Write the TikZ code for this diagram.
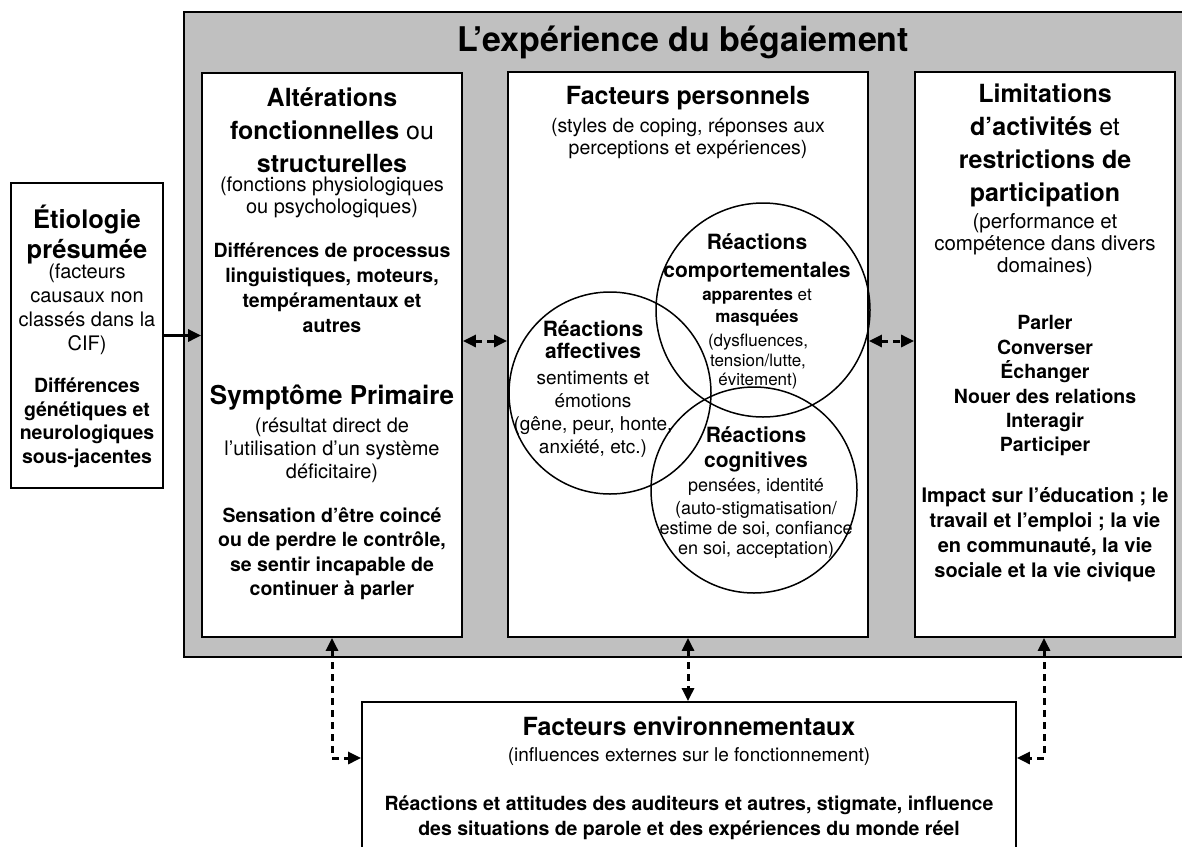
\documentclass[tikz,border=0pt]{standalone}
\usepackage{fontspec}
\setmainfont{TeX Gyre Heros}
\usetikzlibrary{arrows.meta,calc}
\definecolor{panelgray}{RGB}{192,192,192}
\newcommand{\fsz}[2]{\fontsize{#1pt}{#2pt}\selectfont}
\begin{document}
\begin{tikzpicture}[x=1pt,y=-1pt,
  bx/.style={draw=black,line width=1.8pt,fill=white,inner sep=0pt},
  circ/.style={draw=black,line width=1.5pt,circle,inner sep=0pt},
  txt/.style={inner sep=0pt,align=center,text=black},
  solidarrow/.style={line width=3pt,-{Triangle[length=13pt,width=12pt]}},
  dasharrow/.style={line width=3pt,dash pattern=on 7pt off 5pt,{Triangle[length=13pt,width=12pt]}-{Triangle[length=13pt,width=12pt]}}
]
\useasboundingbox (0,0) rectangle (1182,846);
\fill[white] (0,0) rectangle (1182,846);

% grey frame
\node[draw=black,line width=1.8pt,fill=panelgray,inner sep=0pt,minimum width=1000pt,minimum height=645pt] (frame) at (684,334.5) {};
\node[txt,font=\fsz{34}{38}\bfseries] (title) at (683,42) {L’expérience du bégaiement};

% boxes
\node[bx,minimum width=152pt,minimum height=305pt] (etio) at (87,335.5) {};
\node[bx,minimum width=260pt,minimum height=564pt] (alt) at (332,355) {};
\node[bx,minimum width=360pt,minimum height=565pt] (pers) at (688,354.5) {};
\node[bx,minimum width=260pt,minimum height=565pt] (lim) at (1045,354.5) {};
\node[bx,minimum width=654pt,minimum height=146pt] (env) at (689,775) {};

% etiology text
\node[txt,font=\fsz{25.5}{30}\bfseries] (etioh) at (87,235) {Étiologie\\présumée};
\node[txt,font=\fsz{20}{24}] (etios) at (87,309.5) {(facteurs\\causaux non\\classés dans la\\CIF)};
\node[txt,font=\fsz{19.5}{23.5}\bfseries] (etiob) at (87,423) {Différences\\génétiques et\\neurologiques\\sous-jacentes};

% left box text
\node[txt,font=\fsz{25}{33}] (alth) at (332,130) {\textbf{Altérations}\\\textbf{fonctionnelles} ou\\\textbf{structurelles}};
\node[txt,font=\fsz{20}{21.5}] (alts) at (332,197.5) {(fonctions physiologiques\\ou psychologiques)};
\node[txt,font=\fsz{19.5}{25}\bfseries] (altb) at (332,287.5) {Différences de processus\\linguistiques, moteurs,\\tempéramentaux et\\autres};
\node[txt,font=\fsz{26}{30}\bfseries] (symh) at (332,398) {Symptôme Primaire};
\node[txt,font=\fsz{20}{23}] (syms) at (332,450) {(résultat direct de\\l’utilisation d’un système\\déficitaire)};
\node[txt,font=\fsz{19.5}{24.5}\bfseries] (symb) at (332,554) {Sensation d’être coincé\\ou de perdre le contrôle,\\se sentir incapable de\\continuer à parler};

% middle box text
\node[txt,font=\fsz{25}{30}\bfseries] (persh) at (688,98) {Facteurs personnels};
\node[txt,font=\fsz{19.5}{22}] (perss) at (688,139) {(styles de coping, réponses aux\\perceptions et expériences)};

% circles
\node[circ,minimum size=214pt] (comp) at (763,310) {};
\node[circ,minimum size=202pt] (aff) at (610,393) {};
\node[circ,minimum size=206pt] (cog) at (754,490) {};

\node[txt,font=\fsz{21}{28}\bfseries] (comph) at (757,257.5) {Réactions\\comportementales};
\node[txt,font=\fsz{17}{22}] (compm) at (757,308) {\textbf{apparentes} et\\\textbf{masquées}};
\node[txt,font=\fsz{17}{19.5}] (comps) at (758,362) {(dysfluences,\\tension/lutte,\\évitement)};

\node[txt,font=\fsz{21}{22}\bfseries] (affh) at (593,340) {Réactions\\affectives};
\node[txt,font=\fsz{19}{23}] (affs) at (593,414) {sentiments et\\émotions\\(gêne, peur, honte,\\anxiété, etc.)};

\node[txt,font=\fsz{21}{25}\bfseries] (cogh) at (756,449.5) {Réactions\\cognitives};
\node[txt,font=\fsz{18}{21}] (cogs) at (756,487) {pensées, identité};
\node[txt,font=\fsz{18}{20}] (cogt) at (756,530) {(auto-stigmatisation/\\estime de soi, confiance\\en soi, acceptation)};

% right box text
\node[txt,font=\fsz{25}{33}] (limh) at (1045,145) {\textbf{Limitations}\\\textbf{d’activités} et\\\textbf{restrictions de}\\\textbf{participation}};
\node[txt,font=\fsz{20.5}{22}] (lims) at (1045,245) {(performance et\\compétence dans divers\\domaines)};
\node[txt,font=\fsz{19.5}{24.4}\bfseries] (liml) at (1045,386) {Parler\\Converser\\Échanger\\Nouer des relations\\Interagir\\Participer};
\node[txt,font=\fsz{20}{25}\bfseries] (limb) at (1045,534.5) {Impact sur l’éducation ; le\\travail et l’emploi ; la vie\\en communauté, la vie\\sociale et la vie civique};

% bottom box text
\node[txt,font=\fsz{25}{30}\bfseries] (envh) at (689,726) {Facteurs environnementaux};
\node[txt,font=\fsz{19}{22}] (envs) at (689,757) {(influences externes sur le fonctionnement)};
\node[txt,font=\fsz{19.5}{25}\bfseries] (envb) at (689,817.5) {Réactions et attitudes des auditeurs et autres, stigmate, influence\\des situations de parole et des expériences du monde réel};

% connectors
\coordinate (am) at (485,341);
\coordinate (pm) at (891,341);
\coordinate (lc) at (332,758);
\coordinate (rc) at (1044,758);
\draw[solidarrow] (etio.east) -- (etio.east -| alt.west);
\draw[dasharrow] (alt.east |- am) -- (pers.west |- am);
\draw[dasharrow] (pers.east |- pm) -- (lim.west |- pm);
\draw[dasharrow] (pers.south) -- (pers.south |- env.north);
\draw[dasharrow] (alt.south) |- (env.west |- lc);
\draw[dasharrow] (lim.south -| rc) |- (env.east |- rc);
\end{tikzpicture}
\end{document}
